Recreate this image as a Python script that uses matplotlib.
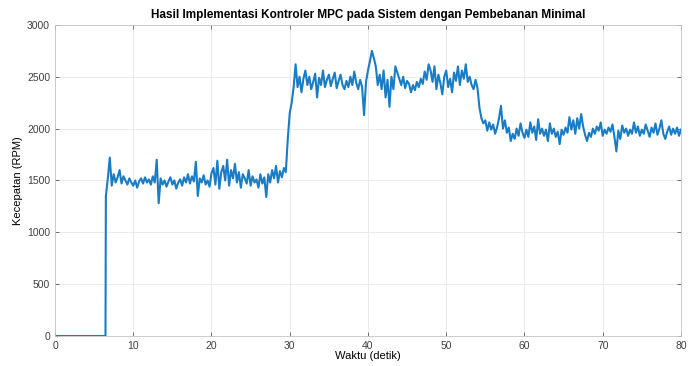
import numpy as np
import matplotlib
matplotlib.use("Agg")
import matplotlib.pyplot as plt

plt.rcParams['font.family'] = ['Liberation Sans', 'DejaVu Sans']

# motor off before the step command
t_idle = [0.0, 6.45]
rpm_idle = [0, 0]

# measured speed, sampled every 0.25 s from 6.5 s to 80 s
rpm = [
    1350, 1520, 1720, 1450, 1560, 1480, 1530, 1600, 1470, 1540,
    1500, 1460, 1520, 1480, 1450, 1500, 1430, 1490, 1520, 1470,
    1530, 1480, 1510, 1460, 1540, 1480, 1700, 1280, 1520, 1460,
    1500, 1440, 1490, 1530, 1460, 1500, 1420, 1480, 1510, 1450,
    1530, 1480, 1560, 1470, 1540, 1490, 1680, 1350, 1520, 1480,
    1550, 1460, 1500, 1440, 1570, 1620, 1460, 1690, 1420, 1580,
    1640, 1500, 1700, 1450, 1600, 1520, 1660, 1480, 1580, 1430,
    1560, 1520, 1470, 1600, 1450, 1540, 1480, 1510, 1430, 1560,
    1470, 1530, 1340, 1560, 1480, 1600, 1520, 1640, 1480, 1590,
    1530, 1620, 1580, 1900, 2150, 2250, 2400, 2620, 2400, 2500,
    2350, 2480, 2560, 2420, 2500, 2380, 2450, 2530, 2300, 2490,
    2420, 2560, 2400, 2470, 2520, 2410, 2480, 2540, 2390, 2460,
    2520, 2420, 2380, 2460, 2400, 2500, 2420, 2550, 2440, 2380,
    2470, 2400, 2130, 2450, 2560, 2650, 2750, 2680, 2600, 2420,
    2520, 2380, 2560, 2300, 2470, 2210, 2500, 2380, 2600, 2540,
    2480, 2420, 2500, 2390, 2460, 2430, 2350, 2420, 2370, 2450,
    2400, 2480, 2430, 2550, 2470, 2620, 2560, 2450, 2600, 2380,
    2520, 2440, 2330, 2500, 2560, 2400, 2480, 2350, 2540, 2460,
    2600, 2420, 2560, 2480, 2620, 2450, 2500, 2420, 2380, 2470,
    2390, 2200, 2100, 2050, 2080, 1980, 2060, 1990, 2040, 1950,
    2010, 2100, 2220, 2000, 2080, 1960, 2010, 1880, 1950, 1900,
    2000, 1930, 2050, 1960, 1910, 1990, 1920, 2060, 1960, 2020,
    1890, 2090, 1950, 2000, 1930, 1990, 1880, 2050, 1950, 2000,
    1920, 1970, 1850, 1990, 1940, 2010, 1960, 2110, 1990, 2080,
    1950, 2100, 2000, 2140, 2020, 1940, 1880, 1960, 1920, 2000,
    1950, 2020, 1980, 2060, 1930, 1990, 1950, 2010, 1970, 2040,
    1920, 1780, 1980, 1900, 2030, 1960, 2000, 1930, 1990, 1950,
    2060, 1960, 2020, 1930, 1990, 1950, 2040, 1980, 1920, 2010,
    1960, 2050, 1940, 2000, 2080, 1950, 1900, 1970, 2020, 1940,
    2000, 1950, 2010, 1930, 1990,
]
t_run = np.linspace(6.5, 80, len(rpm))

t = np.concatenate([t_idle, t_run])
y = np.concatenate([rpm_idle, rpm])

fig = plt.figure(figsize=(6.92, 3.66), dpi=100)
ax = fig.add_axes([0.0795, 0.082, 0.9045, 0.85])

ax.plot(t, y, color='#1a7cc4', linewidth=1.5)

ax.set_xlim(0, 80)
ax.set_ylim(0, 3000)
ax.set_xticks(np.arange(0, 81, 10))
ax.set_yticks(np.arange(0, 3001, 500))
ax.grid(True, color='#e8e8e8', linewidth=0.6)
ax.set_axisbelow(True)
ax.tick_params(direction='in', length=3, labelsize=7.5, colors='#404040',
               top=True, right=True, width=0.5)
for s in ax.spines.values():
    s.set_color('#c4c4c4')
    s.set_linewidth(0.6)

ax.set_title('Hasil Implementasi Kontroler MPC pada Sistem dengan Pembebanan Minimal',
             fontsize=8.5, fontweight='bold', pad=5)
ax.set_xlabel('Waktu (detik)', fontsize=8, labelpad=0)
ax.set_ylabel('Kecepatan (RPM)', fontsize=8, labelpad=3)

fig.savefig('out.png', dpi=100)
